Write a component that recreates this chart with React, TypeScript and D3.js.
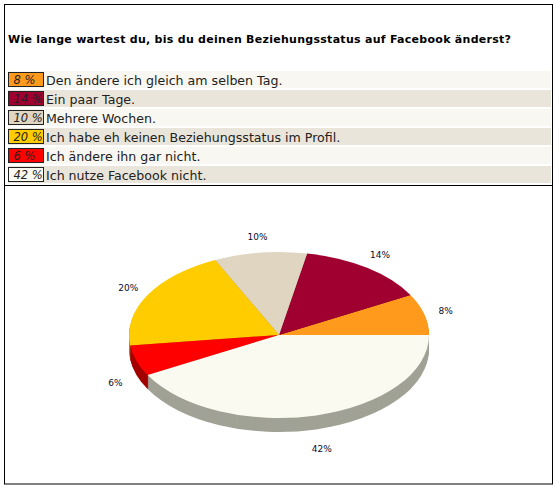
import React from 'react';
import * as d3 from 'd3';

const title = 'Wie lange wartest du, bis du deinen Beziehungsstatus auf Facebook änderst?';
const answers = [
  'Den ändere ich gleich am selben Tag.',
  'Ein paar Tage.',
  'Mehrere Wochen.',
  'Ich habe eh keinen Beziehungsstatus im Profil.',
  'Ich ändere ihn gar nicht.',
  'Ich nutze Facebook nicht.'
];
const percents = [8, 14, 10, 20, 6, 42];
const colors = ['#ff9a1c', '#a00030', '#e0d5c0', '#ffcc00', '#ff0000', '#fafaf0'];
const wallColors = ['#b26c14', '#700022', '#9d9586', '#b28e00', '#a30000', '#a1a296'];
const rowColors = ['#f8f7f2', '#eae5da'];

const WIDTH = 560;
const HEIGHT = 489;
const FONT = '"DejaVu Sans", sans-serif';

const cx = 279;
const cy = 335;
const rx = 150;
const ry = 83;
const depth = 14;
const labelRx = 172;
const labelRy = 100;

export default function App() {
  const rowY = d3.scaleBand<number>()
    .domain(d3.range(answers.length))
    .range([71, 183])
    .paddingInner(2 / 19)
    .paddingOuter(0);

  // counter-clockwise from 3 o'clock, like the original
  const slices = d3.pie<number>()
    .sort(null)
    .startAngle(Math.PI / 2)
    .endAngle(-1.5 * Math.PI)(percents);

  const arc = d3.arc<d3.PieArcDatum<number>>().innerRadius(0).outerRadius(rx);
  const labelArc = d3.arc<d3.PieArcDatum<number>>().innerRadius(labelRx).outerRadius(labelRx);
  const squash = ry / rx;
  const layers = d3.range(depth, 0, -1);

  return (
    <svg
      width={WIDTH}
      height={HEIGHT}
      style={{ position: 'absolute', left: 0, top: 0, background: '#fff' }}
    >
      <text x={8} y={43} fontFamily={FONT} fontSize={11} fontWeight="bold" fill="#000" textLength={503}>
        {title}
      </text>

      {answers.map((answer, i) => {
        const y = rowY(i) as number;
        return (
          <g key={answer}>
            <rect x={8} y={y} width={543} height={rowY.bandwidth()} fill={rowColors[i % 2]} />
            <rect x={8.5} y={y + 1.5} width={35} height={14} fill={colors[i]} stroke="#222" strokeWidth={1} />
            <text x={13.5} y={y + 13} fontFamily={FONT} fontSize={11.5} fontStyle="italic" fill="#222">
              {percents[i]} %
            </text>
            <text x={46} y={y + 13.5} fontFamily={FONT} fontSize={12.6} fill="#222">
              {answer}
            </text>
          </g>
        );
      })}

      <rect x={4.5} y={4.5} width={548} height={479.5} fill="none" stroke="#000" strokeWidth={1} />
      <line x1={4.5} x2={552.5} y1={185.5} y2={185.5} stroke="#000" strokeWidth={1} />

      {layers.map(offset => (
        <g key={offset} transform={`translate(${cx},${cy + offset}) scale(1,${squash})`}>
          {slices.map((slice, i) => (
            <path key={i} d={arc(slice) as string} fill={wallColors[i]} />
          ))}
        </g>
      ))}

      <g transform={`translate(${cx},${cy}) scale(1,${squash})`}>
        {slices.map((slice, i) => (
          <path key={i} d={arc(slice) as string} fill={colors[i]} />
        ))}
      </g>

      {slices.map((slice, i) => {
        const [lx, ly] = labelArc.centroid(slice);
        const labelY = ly * (labelRy / labelRx);
        return (
          <text
            key={i}
            x={cx + lx}
            y={cy + labelY + (labelY > 0 ? depth + 2 : 0) + 4}
            textAnchor="middle"
            fontFamily={FONT}
            fontSize={9}
            fill="#0a0a2a"
          >
            {percents[i]}%
          </text>
        );
      })}
    </svg>
  );
}
